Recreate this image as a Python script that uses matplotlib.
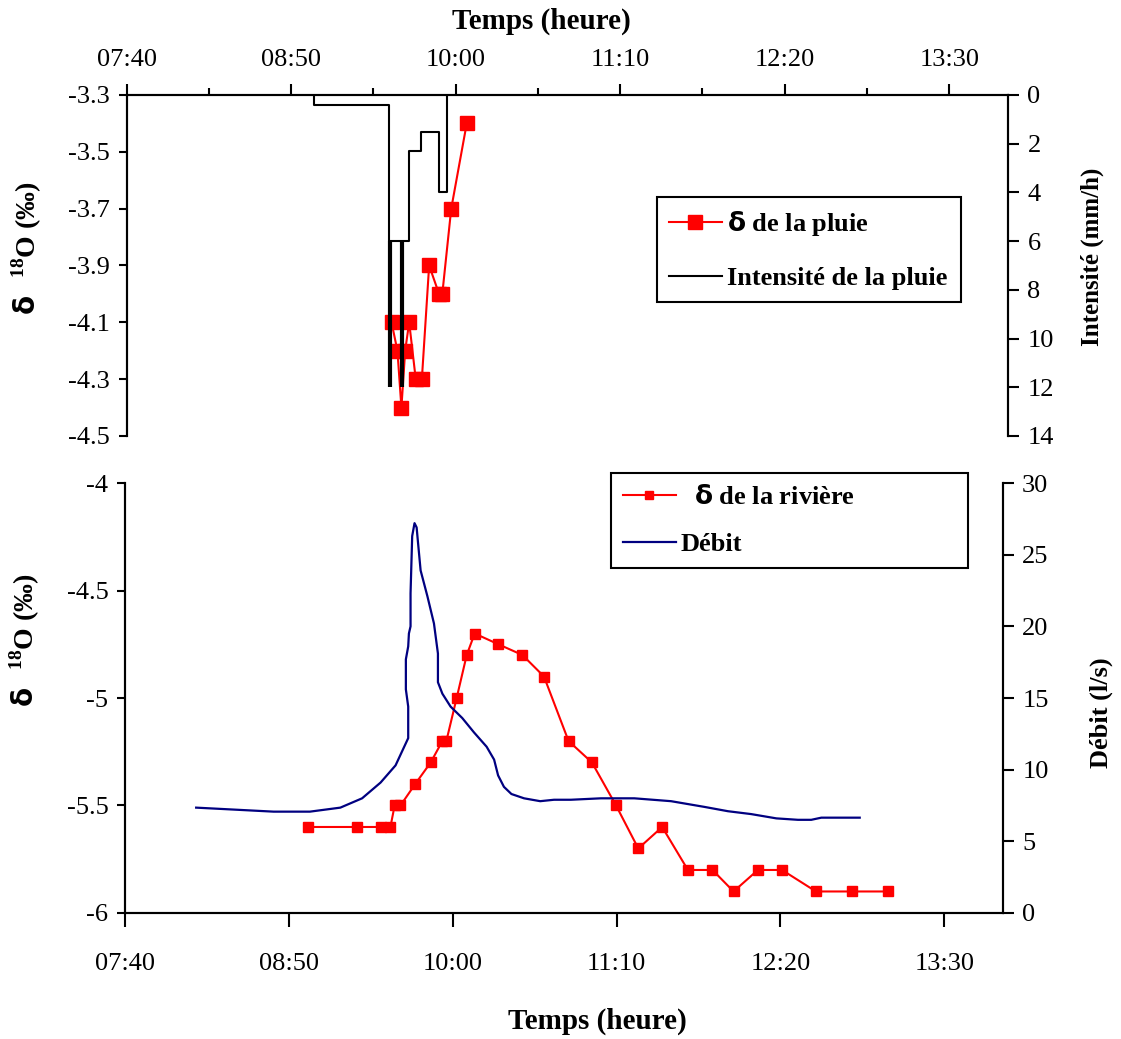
import matplotlib
matplotlib.use("Agg")
import matplotlib.pyplot as plt
from matplotlib.ticker import FuncFormatter, MultipleLocator, FixedLocator

# upper panel: rain event
rain_delta_time = ["09:32.7", "09:35.2", "09:36.9", "09:38.5", "09:40.2", "09:43", "09:45.6",
                   "09:48.7", "09:52.9", "09:54.3", "09:58.1", "10:04.7"]
rain_delta = [-4.1, -4.2, -4.4, -4.2, -4.1, -4.3, -4.3, -3.9, -4.0, -4.0, -3.7, -3.4]

rain_int_time = ["08:59.5", "08:59.5", "09:31.7", "09:31.7", "09:40.2", "09:40.2", "09:45.2",
                 "09:45.2", "09:52.9", "09:52.9", "09:56.2", "09:56.2"]
rain_int = [0, 0.4, 0.4, 6, 6, 2.3, 2.3, 1.5, 1.5, 4, 4, 0]
peak_time = ["09:32", "09:37"]
peak_low = [6, 6]
peak_high = [12, 12]

# lower panel: river
river_time = ["08:58", "09:19", "09:29.4", "09:33.4", "09:35.2", "09:37.7", "09:44", "09:50.6",
              "09:55.6", "09:57.3", "10:01.7", "10:06", "10:09.4", "10:19.5", "10:29.8", "10:39",
              "10:49.5", "10:59.5", "11:09.8", "11:19.3", "11:29.5", "11:40.5", "11:51", "12:00",
              "12:10.4", "12:20.7", "12:35.2", "12:50.7", "13:05.8"]
river_delta = [-5.6, -5.6, -5.6, -5.6, -5.5, -5.5, -5.4, -5.3, -5.2, -5.2, -5.0, -4.8, -4.7,
               -4.75, -4.8, -4.9, -5.2, -5.3, -5.5, -5.7, -5.6, -5.8, -5.8, -5.9, -5.8, -5.8,
               -5.9, -5.9, -5.9]

flow_time = ["08:10.4", "08:43.5", "08:59", "09:12", "09:21.3", "09:29.2", "09:35.6", "09:41",
             "09:41", "09:40", "09:40", "09:41", "09:41.3", "09:42", "09:42", "09:42.7",
             "09:43.7", "09:44.6", "09:45.1", "09:46.3", "09:49.2", "09:52", "09:53.7",
             "09:53.7", "09:55.6", "09:59.1", "10:04.1", "10:09.1", "10:14.5", "10:17.7",
             "10:19.4", "10:21.9", "10:25.1", "10:30.5", "10:37.4", "10:43.3", "10:50.5",
             "11:03.3", "11:17.6", "11:33.3", "11:47.6", "11:57.6", "12:07.5", "12:18.3",
             "12:27.5", "12:33.2", "12:37.5", "12:53.9"]
flow = [7.35, 7.07, 7.07, 7.35, 8.0, 9.1, 10.3, 12.2, 14.4, 15.6, 17.7, 18.6, 19.5, 20.0, 22.3,
        26.3, 27.2, 26.9, 26.0, 23.9, 22.1, 20.2, 18.1, 16.1, 15.3, 14.4, 13.6, 12.6, 11.6, 10.7,
        9.6, 8.8, 8.3, 8.0, 7.8, 7.9, 7.9, 8.0, 8.0, 7.8, 7.4, 7.1, 6.9, 6.6, 6.5, 6.5, 6.65, 6.65]

x_start, x_end, x_step = "07:40", "13:55", 70
top_delta_ticks = [-4.5, -4.3, -4.1, -3.9, -3.7, -3.5, -3.3]


def minutes(hhmm):
    h, m = hhmm.split(':')
    return int(h) * 60 + float(m)


def mins(lst):
    return [minutes(s) for s in lst]


plt.rcParams['font.family'] = ['Liberation Serif', 'DejaVu Sans']
plt.rcParams['mathtext.fontset'] = 'custom'
plt.rcParams['mathtext.rm'] = 'Liberation Serif'
plt.rcParams['mathtext.bf'] = 'Liberation Serif:bold'
plt.rcParams['mathtext.sf'] = 'DejaVu Sans:bold'
plt.rcParams['axes.unicode_minus'] = False
plt.rcParams['axes.linewidth'] = 1.5
FS = 19

time_fmt = FuncFormatter(lambda v, pos: '%02d:%02d' % divmod(int(round(v)), 60))
num_fmt = FuncFormatter(lambda v, pos: '%g' % round(v, 2))
delta_label = r"$\mathsf{\delta}\ \ ^{\mathbf{18}}$O (‰)"

fig = plt.figure(figsize=(11.21, 10.39), dpi=100)

# ---------------- upper panel ----------------
ax1 = fig.add_axes([0.1130, 0.5804, 0.7862, 0.3282])
ax1r = ax1.twinx()

ax1.plot(mins(rain_delta_time), rain_delta, color='red', lw=1.5, marker='s', ms=10)
ax1r.plot(mins(rain_int_time), rain_int, color='black', lw=1.5)
ax1r.vlines(mins(peak_time), peak_low, peak_high, color='black', lw=3)

ax1.set_xlim(minutes(x_start), minutes(x_end))
ax1.set_ylim(-4.5, -3.3)
ax1.yaxis.set_major_locator(FixedLocator(top_delta_ticks))
ax1.yaxis.set_major_formatter(num_fmt)
ax1r.set_ylim(14, 0)
ax1r.yaxis.set_major_locator(MultipleLocator(2))

ax1.xaxis.set_major_locator(MultipleLocator(x_step, offset=minutes(x_start) % x_step))
ax1.xaxis.set_minor_locator(MultipleLocator(x_step / 2, offset=minutes(x_start) % (x_step / 2)))
ax1.xaxis.set_major_formatter(time_fmt)
ax1.xaxis.tick_top()
ax1.xaxis.set_label_position('top')
ax1.set_xlabel("Temps (heure)", fontsize=21, fontweight='bold')
ax1.xaxis.set_label_coords(0.470, 1.1935)
ax1.tick_params(axis='x', which='major', length=8, width=1.5, labelsize=FS, pad=9)
ax1.tick_params(axis='x', which='minor', length=5, width=1.5)
ax1.tick_params(axis='y', length=6, width=1.5, labelsize=FS, pad=6)
ax1r.tick_params(axis='y', length=8, width=1.5, labelsize=FS, pad=6)

for a in (ax1, ax1r):
    a.spines['bottom'].set_visible(False)

ax1.set_ylabel(delta_label, fontsize=20, fontweight='bold')
ax1.yaxis.set_label_coords(-0.094, 0.551)
ax1r.set_ylabel("Intensité (mm/h)", fontsize=18, fontweight='bold')
ax1r.yaxis.set_label_coords(1.082, 0.525)

# ---------------- lower panel ----------------
ax2 = fig.add_axes([0.1115, 0.1213, 0.7830, 0.4138])
ax2r = ax2.twinx()

ax2.plot(mins(river_time), river_delta, color='red', lw=1.5, marker='s', ms=7)
ax2r.plot(mins(flow_time), flow, color='#000080', lw=1.6)

ax2.set_xlim(minutes(x_start), minutes(x_end))
ax2.set_ylim(-6, -4)
ax2.yaxis.set_major_locator(MultipleLocator(0.5))
ax2.yaxis.set_major_formatter(num_fmt)
ax2r.set_ylim(0, 30)
ax2r.yaxis.set_major_locator(MultipleLocator(5))

ax2.xaxis.set_major_locator(MultipleLocator(x_step, offset=minutes(x_start) % x_step))
ax2.xaxis.set_major_formatter(time_fmt)
ax2.set_xlabel("Temps (heure)", fontsize=21, fontweight='bold')
ax2.xaxis.set_label_coords(0.538, -0.221)
ax2.tick_params(axis='x', length=10, width=1.5, labelsize=FS, pad=19)
ax2.tick_params(axis='y', length=6, width=1.5, labelsize=FS, pad=6)
ax2r.tick_params(axis='y', length=8, width=1.5, labelsize=FS, pad=6)

for a in (ax2, ax2r):
    a.spines['top'].set_visible(False)

ax2.set_ylabel(delta_label, fontsize=20, fontweight='bold')
ax2.yaxis.set_label_coords(-0.0946, 0.635)
ax2r.set_ylabel("Débit (l/s)", fontsize=19, fontweight='bold')
ax2r.yaxis.set_label_coords(1.0995, 0.467)

# ---------------- legends ----------------
h1 = ax1.get_lines()[0]
h2 = ax1r.get_lines()[0]
leg1 = fig.legend([h1, h2], [r"$\mathsf{\delta}$ de la pluie", "Intensité de la pluie"],
                  loc='upper left', bbox_to_anchor=(0.5861, 0.7132, 0.2712, 0.0972),
                  mode='expand', prop={'size': FS, 'weight': 'bold'}, frameon=True,
                  fancybox=False, edgecolor='black', framealpha=1, handlelength=2.0,
                  handletextpad=0.2, borderpad=0.45, labelspacing=1.1, borderaxespad=0)
leg1.get_frame().set_linewidth(1.5)

h3 = ax2.get_lines()[0]
h4 = ax2r.get_lines()[0]
leg2 = fig.legend([h3, h4], [r"  $\mathsf{\delta}$ de la rivière", "Débit"],
                  loc='upper left', bbox_to_anchor=(0.5450, 0.4552, 0.3185, 0.0895),
                  mode='expand', prop={'size': FS, 'weight': 'bold'}, frameon=True,
                  fancybox=False, edgecolor='black', framealpha=1, handlelength=2.0,
                  handletextpad=0.2, borderpad=0.45, labelspacing=0.9, borderaxespad=0,
                  markerscale=0.8)
leg2.get_frame().set_linewidth(1.5)

fig.savefig('out.png', dpi=100)
